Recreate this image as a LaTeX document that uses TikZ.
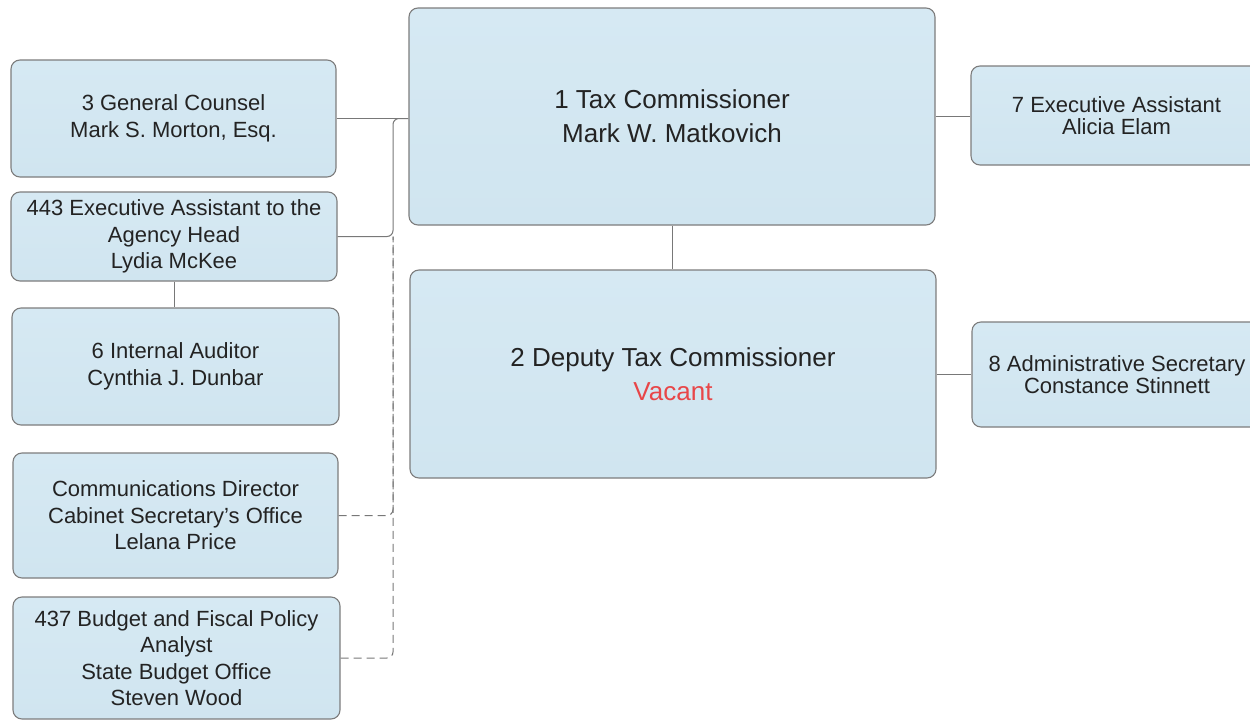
\documentclass[tikz,border=0pt]{standalone}
\usepackage{fontspec}
\setmainfont{Liberation Sans}
\definecolor{boxfill}{RGB}{208,229,240}
\definecolor{boxtop}{RGB}{214,233,243}
\definecolor{boxline}{RGB}{125,125,125}
\definecolor{connline}{RGB}{120,120,120}
\definecolor{ink}{RGB}{35,35,35}
\definecolor{vac}{RGB}{232,70,72}
\begin{document}
\begin{tikzpicture}[x=1pt,y=-1pt,
  orgbox/.style={draw=boxline, line width=1.1pt, top color=boxtop, bottom color=boxfill,
    rounded corners=9pt, inner sep=0pt, align=center, text=ink},
  smalltxt/.style={font=\fontsize{22}{26.5}\selectfont},
  righttxt/.style={font=\fontsize{22}{22}\selectfont},
  bigtxt/.style={font=\fontsize{26}{34}\selectfont},
  conn/.style={draw=connline, line width=1pt},
  dconn/.style={conn, dash pattern=on 8pt off 5pt}
]
\useasboundingbox (0,0) rectangle (1250,720);
\fill[white] (0,0) rectangle (1250,720);

% central boxes
\node[orgbox, bigtxt, minimum width=526, minimum height=217] (b1) at (672,116.5)
  {1 Tax Commissioner\\Mark W. Matkovich};
\node[orgbox, bigtxt, minimum width=526, minimum height=208] (b2) at (673,374)
  {2 Deputy Tax Commissioner\\\textcolor{vac}{Vacant}};

% left column
\node[orgbox, smalltxt, minimum width=325, minimum height=117] (b3) at (173.5,118.5)
  {3 General Counsel\\Mark S. Morton, Esq.};
\node[orgbox, smalltxt, minimum width=326, minimum height=89] (b443) at (174,236.5)
  {443 Executive Assistant to the\\Agency Head\\Lydia McKee};
\node[orgbox, smalltxt, minimum width=327, minimum height=117] (b6) at (175.5,366.5)
  {6 Internal Auditor\\Cynthia J. Dunbar};
\node[orgbox, smalltxt, minimum width=325, minimum height=125] (bc) at (175.5,515.5)
  {Communications Director\\Cabinet Secretary's Office\\Lelana Price};
\node[orgbox, smalltxt, minimum width=327, minimum height=122] (b437) at (176.5,658)
  {437 Budget and Fiscal Policy\\Analyst\\State Budget Office\\Steven Wood};

% right column
\node[orgbox, righttxt, minimum width=291, minimum height=99] (b7) at (1116.5,115.5)
  {7 Executive Assistant\\Alicia Elam};
\node[orgbox, righttxt, minimum width=290, minimum height=105] (b8) at (1117,374.5)
  {8 Administrative Secretary\\Constance Stinnett};

% junction
\coordinate (jx) at (393,0);

% solid connectors
\draw[conn] (b3.east) -- (b3.east -| b1.west);
\draw[conn, rounded corners=6pt] (b443.east) -| (jx |- b3.east) -- (b3.east -| b1.west);
\draw[conn] (b443.south) -- (b443.south |- b6.north);
\draw[conn] (b1.south) -- (b1.south |- b2.north);
\draw[conn] (b1.east) -- (b1.east -| b7.west);
\draw[conn] (b2.east) -- (b2.east -| b8.west);

% dashed connectors
\draw[dconn, rounded corners=6pt] (bc.east) -| (jx |- b443.east);
\draw[dconn, rounded corners=6pt] (b437.east) -| (jx |- b443.east);
\end{tikzpicture}
\end{document}
